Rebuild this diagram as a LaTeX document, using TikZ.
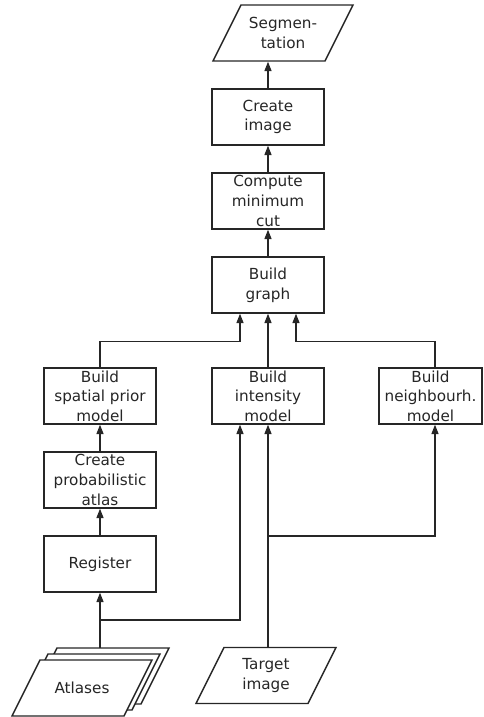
\documentclass[tikz,border=0pt]{standalone}
\usepackage{fontspec}
\setmainfont{DejaVu Sans}
\usetikzlibrary{arrows.meta, calc}

% slanted data box round a centre point
\newcommand{\slantbox}[2][]{%
    \draw[#1] ($(#2)+(-42,-28)$) -- ($(#2)+(70,-28)$) -- ($(#2)+(42,28)$) -- ($(#2)+(-70,28)$) -- cycle;}

\begin{document}
\begin{tikzpicture}[x=0.3mm, y=-0.3mm, line width=1.2pt, draw=black!85,
    every node/.style={font=\fontsize{13}{16.8}\selectfont, align=center, text=black!85},
    box/.style={draw, minimum width=33.6mm, minimum height=16.8mm, inner sep=1pt},
    data/.style={minimum height=16.8mm, inner sep=1pt},
    arr/.style={-{Triangle[length=2.8mm, width=2.1mm]}}]
    \useasboundingbox (0,0) rectangle (483,717);

    % Main chain
    \node[data] (seg) at (283,33) {Segmen-\\tation};
    \slantbox{seg}
    \node[box] (createimg) at (268,117) {Create\\image};
    \node[box] (mincut) at (268,201) {Compute\\minimum\\cut};
    \node[box] (graph) at (268,285) {Build\\graph};

    % Models
    \node[box] (spatial) at (100,396) {Build\\spatial prior\\model};
    \node[box] (intensity) at (268,396) {Build\\intensity\\model};
    \node[box, minimum width=30.9mm] (neighb) at (430.5,396) {Build\\neighbourh.\\model};
    \node[box] (probatlas) at (100,480) {Create\\probabilistic\\atlas};
    \node[box] (register) at (100,564) {Register};

    % Inputs
    \coordinate (atl3) at (99,676);
    \coordinate (atl2) at (90,682);
    \coordinate (atl1) at (82,688);
    \slantbox[fill=white]{atl3}
    \slantbox[fill=white]{atl2}
    \slantbox[fill=white]{atl1}
    \node[data] (atlases) at (atl1) {Atlases};
    \node[data] (target) at (266,675.5) {Target\\image};
    \slantbox{target}

    \coordinate (atltop) at (100,648);
    \coordinate (atlsplit) at (100,620);
    \coordinate (tgtsplit) at (268,536);
    \coordinate (nbx) at (435,396);

    % Arrows
    \draw[arr] (createimg.north) -- (createimg.north |- seg.south);
    \draw[arr] (mincut) -- (createimg);
    \draw[arr] (graph) -- (mincut);
    \draw[arr] (intensity) -- (graph);
    \draw[arr] (spatial.north) |- ($(graph.south)+(-28,28)$) -- ($(graph.south)+(-28,0)$);
    \draw[arr] (nbx |- neighb.north) |- ($(graph.south)+(28,28)$) -- ($(graph.south)+(28,0)$);
    \draw[arr] (probatlas) -- (spatial);
    \draw[arr] (register) -- (probatlas);
    \draw[arr] (atltop) -- (register);
    \draw[arr] (atlsplit) -| ($(intensity.south)+(-28,0)$);
    \draw[arr] (intensity.south |- target.north) -- (intensity.south);
    \draw[arr] (tgtsplit) -| (nbx |- neighb.south);
\end{tikzpicture}
\end{document}
